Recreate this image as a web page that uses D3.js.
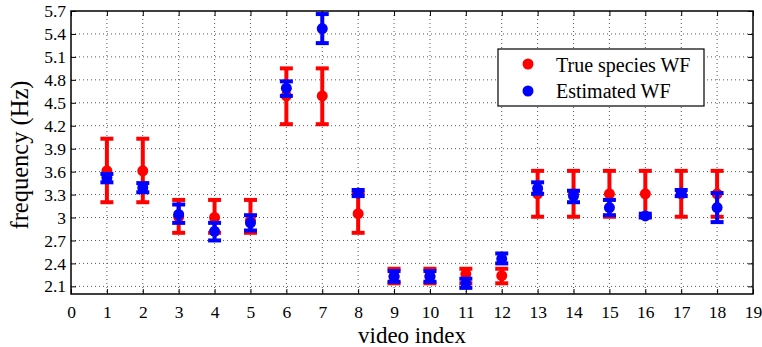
<!DOCTYPE html>
<html>
<head>
<meta charset="utf-8">
<script src="https://cdn.jsdelivr.net/npm/d3@7"></script>
<style>
  body { margin: 0; background: #fff; }
  svg text { font-family: "Liberation Serif", "DejaVu Serif", serif; fill: #000; }
</style>
</head>
<body>
<div id="chart-area"></div>
<script>
const videos = [1, 2, 3, 4, 5, 6, 7, 8, 9, 10, 11, 12, 13, 14, 15, 16, 17, 18];

const trueWF   = [3.61, 3.61, 3.01, 3.00, 2.96, 4.59, 4.59, 3.05, 2.23, 2.23, 2.26, 2.24, 3.31, 3.31, 3.31, 3.31, 3.31, 3.31];
const trueLow  = [3.20, 3.20, 2.80, 2.80, 2.80, 4.22, 4.22, 2.80, 2.14, 2.14, 2.14, 2.14, 3.01, 3.01, 3.01, 3.01, 3.01, 3.01];
const trueHigh = [4.03, 4.03, 3.23, 3.23, 3.23, 4.95, 4.95, 3.32, 2.33, 2.33, 2.33, 2.33, 3.61, 3.61, 3.61, 3.61, 3.61, 3.61];

const estWF   = [3.52, 3.39, 3.04, 2.82, 2.93, 4.69, 5.47, 3.32, 2.23, 2.23, 2.14, 2.46, 3.38, 3.28, 3.13, 3.02, 3.32, 3.13];
const estLow  = [3.46, 3.33, 2.93, 2.70, 2.83, 4.59, 5.28, 3.28, 2.16, 2.16, 2.08, 2.40, 3.31, 3.20, 3.03, 3.00, 3.28, 2.94];
const estHigh = [3.57, 3.45, 3.17, 2.93, 3.03, 4.78, 5.66, 3.36, 2.30, 2.30, 2.20, 2.53, 3.46, 3.35, 3.23, 3.05, 3.36, 3.32];

const xTicks = d3.range(0, 20);
const yTicks = [2.1, 2.4, 2.7, 3, 3.3, 3.6, 3.9, 4.2, 4.5, 4.8, 5.1, 5.4, 5.7];
const yTickLabels = ["2.1", "2.4", "2.7", "3", "3.3", "3.6", "3.9", "4.2", "4.5", "4.8", "5.1", "5.4", "5.7"];

const seriesNames = ["True species WF", "Estimated WF"];
const seriesColors = ["#ff0000", "#0000ff"];

const drawChart = () => {
  const WIDTH = 762;
  const HEIGHT = 347;
  const margin = { top: 11, right: 9, bottom: 53, left: 71 };
  const innerW = WIDTH - margin.left - margin.right;
  const innerH = HEIGHT - margin.top - margin.bottom;

  const svg = d3.select("#chart-area")
    .append("svg")
    .attr("width", WIDTH)
    .attr("height", HEIGHT);

  const g = svg.append("g").attr("transform", `translate(${margin.left},${margin.top})`);

  const x = d3.scaleLinear().domain([0, 19]).range([0, innerW]);
  const y = d3.scaleLinear().domain([2.0, 5.7]).range([innerH, 0]);

  // dotted grid
  g.append("g").selectAll("line").data(xTicks.slice(1, -1)).enter().append("line")
    .attr("x1", d => x(d)).attr("x2", d => x(d))
    .attr("y1", 0).attr("y2", innerH)
    .attr("stroke", "#555").attr("stroke-width", 1).attr("stroke-dasharray", "1,3");
  g.append("g").selectAll("line").data(yTicks.slice(0, -1)).enter().append("line")
    .attr("x1", 0).attr("x2", innerW)
    .attr("y1", d => y(d)).attr("y2", d => y(d))
    .attr("stroke", "#555").attr("stroke-width", 1).attr("stroke-dasharray", "1,3");

  // axes (ticks inward, mirrored on top/right)
  const fmtY = d => yTickLabels[yTicks.indexOf(d)];
  const xAxis = g.append("g").attr("transform", `translate(0,${innerH})`)
    .call(d3.axisBottom(x).tickValues(xTicks).tickFormat(d3.format("d")).tickSizeInner(-5).tickSizeOuter(0).tickPadding(12));
  const yAxis = g.append("g")
    .call(d3.axisLeft(y).tickValues(yTicks).tickFormat(fmtY).tickSizeInner(-5).tickSizeOuter(0).tickPadding(5));
  g.append("g")
    .call(d3.axisTop(x).tickValues(xTicks).tickFormat("").tickSizeInner(-5).tickSizeOuter(0));
  g.append("g").attr("transform", `translate(${innerW},0)`)
    .call(d3.axisRight(y).tickValues(yTicks).tickFormat("").tickSizeInner(-5).tickSizeOuter(0));

  g.selectAll(".domain").remove();
  g.selectAll(".tick line").attr("stroke", "#000").attr("stroke-width", 1);
  xAxis.selectAll("text").attr("font-size", 17.5);
  yAxis.selectAll("text").attr("font-size", 17.5);

  g.append("rect")
    .attr("width", innerW).attr("height", innerH)
    .attr("fill", "none").attr("stroke", "#000").attr("stroke-width", 1.5);

  // error bars
  const capW = 6.5;
  const drawSeries = (vals, lows, highs, color) => {
    const s = g.append("g");
    const rows = videos.map((v, i) => ({ v, val: vals[i], lo: lows[i], hi: highs[i] }));
    s.selectAll(".stem").data(rows).enter().append("line")
      .attr("x1", d => x(d.v)).attr("x2", d => x(d.v))
      .attr("y1", d => y(d.lo)).attr("y2", d => y(d.hi))
      .attr("stroke", color).attr("stroke-width", 4);
    s.selectAll(".capLo").data(rows).enter().append("line")
      .attr("x1", d => x(d.v) - capW).attr("x2", d => x(d.v) + capW)
      .attr("y1", d => y(d.lo)).attr("y2", d => y(d.lo))
      .attr("stroke", color).attr("stroke-width", 4);
    s.selectAll(".capHi").data(rows).enter().append("line")
      .attr("x1", d => x(d.v) - capW).attr("x2", d => x(d.v) + capW)
      .attr("y1", d => y(d.hi)).attr("y2", d => y(d.hi))
      .attr("stroke", color).attr("stroke-width", 4);
    s.selectAll("circle").data(rows).enter().append("circle")
      .attr("cx", d => x(d.v)).attr("cy", d => y(d.val)).attr("r", 5.5)
      .attr("fill", color);
  };
  drawSeries(trueWF, trueLow, trueHigh, seriesColors[0]);
  drawSeries(estWF, estLow, estHigh, seriesColors[1]);

  // axis labels
  svg.append("text")
    .attr("x", margin.left + innerW / 2).attr("y", 343)
    .attr("text-anchor", "middle").attr("font-size", 23)
    .text("video index");
  svg.append("text")
    .attr("transform", `translate(28,155) rotate(-90)`)
    .attr("text-anchor", "middle").attr("font-size", 24.5)
    .text("frequency (Hz)");

  // legend
  const lg = svg.append("g").attr("transform", "translate(498,49)");
  lg.append("rect").attr("width", 206).attr("height", 57)
    .attr("fill", "#fff").attr("stroke", "#000").attr("stroke-width", 1.2);
  seriesNames.forEach((name, i) => {
    lg.append("circle").attr("cx", 30).attr("cy", 15 + i * 27).attr("r", 5.5).attr("fill", seriesColors[i]);
    lg.append("text").attr("x", 58).attr("y", 23 + i * 26).attr("font-size", 20).text(name);
  });
};

window.onload = drawChart;
</script>
</body>
</html>
